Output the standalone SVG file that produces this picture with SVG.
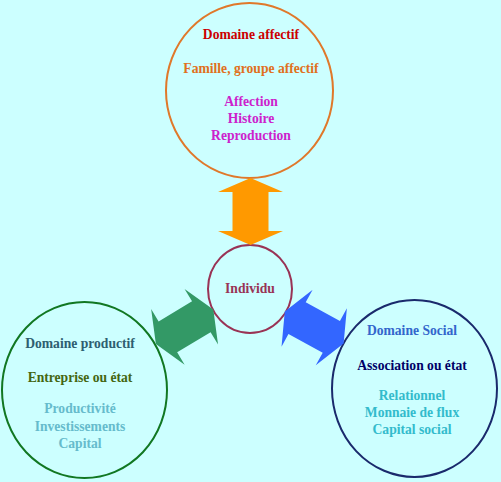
<svg xmlns="http://www.w3.org/2000/svg" width="501" height="482" viewBox="0 0 501 482">
<defs>
<style>
text{font-family:"Liberation Serif","Times New Roman",serif;font-weight:bold;font-size:13.6px;text-anchor:middle}
.ring{fill:none;stroke-width:2}
</style>
<polygon id="dbl" points="-33.5,0 -19.5,-32.5 -19.5,-18 19.5,-18 19.5,-32.5 33.5,0 19.5,32.5 19.5,18 -19.5,18 -19.5,32.5"/>
</defs>
<rect width="501" height="482" fill="#ccffff"/>
<g id="affectif">
<ellipse class="ring" cx="249.5" cy="90.5" rx="83.5" ry="87.5" stroke="#e0782a"/>
<text x="251" y="39" fill="#cc0000">Domaine affectif</text>
<text x="251" y="73" fill="#e07020">Famille, groupe affectif</text>
<text x="251" y="106" fill="#cc22cc">Affection</text>
<text x="251" y="123" fill="#cc22cc">Histoire</text>
<text x="251" y="140" fill="#cc22cc">Reproduction</text>
</g>
<g id="individu">
<ellipse class="ring" cx="250" cy="289" rx="42" ry="44" stroke="#993355"/>
<text x="250" y="293" fill="#993355">Individu</text>
</g>
<g id="productif">
<ellipse class="ring" cx="84.5" cy="390" rx="82.5" ry="88" stroke="#117722"/>
<text x="80" y="348" fill="#2e5e70">Domaine productif</text>
<text x="80" y="382" fill="#446611">Entreprise ou état</text>
<text x="80" y="413" fill="#66bbcc">Productivité</text>
<text x="80" y="431" fill="#66bbcc">Investissements</text>
<text x="80" y="448" fill="#66bbcc">Capital</text>
</g>
<g id="social">
<ellipse class="ring" cx="414.5" cy="388.5" rx="82.5" ry="88.5" stroke="#1a2a6c"/>
<text x="412" y="335" fill="#3366cc">Domaine Social</text>
<text x="412" y="370" fill="#000066">Association ou état</text>
<text x="412" y="400" fill="#33bbcc">Relationnel</text>
<text x="412" y="417" fill="#33bbcc">Monnaie de flux</text>
<text x="412" y="434" fill="#33bbcc">Capital social</text>
</g>
<g id="connectors">
<use href="#dbl" transform="translate(250.5,211.5) rotate(90)" fill="#ff9900"/>
<use href="#dbl" transform="translate(184.6,326.8) rotate(-31)" fill="#339966"/>
<use href="#dbl" transform="translate(314.2,327.5) rotate(28.6)" fill="#3366ff"/>
</g>
</svg>
